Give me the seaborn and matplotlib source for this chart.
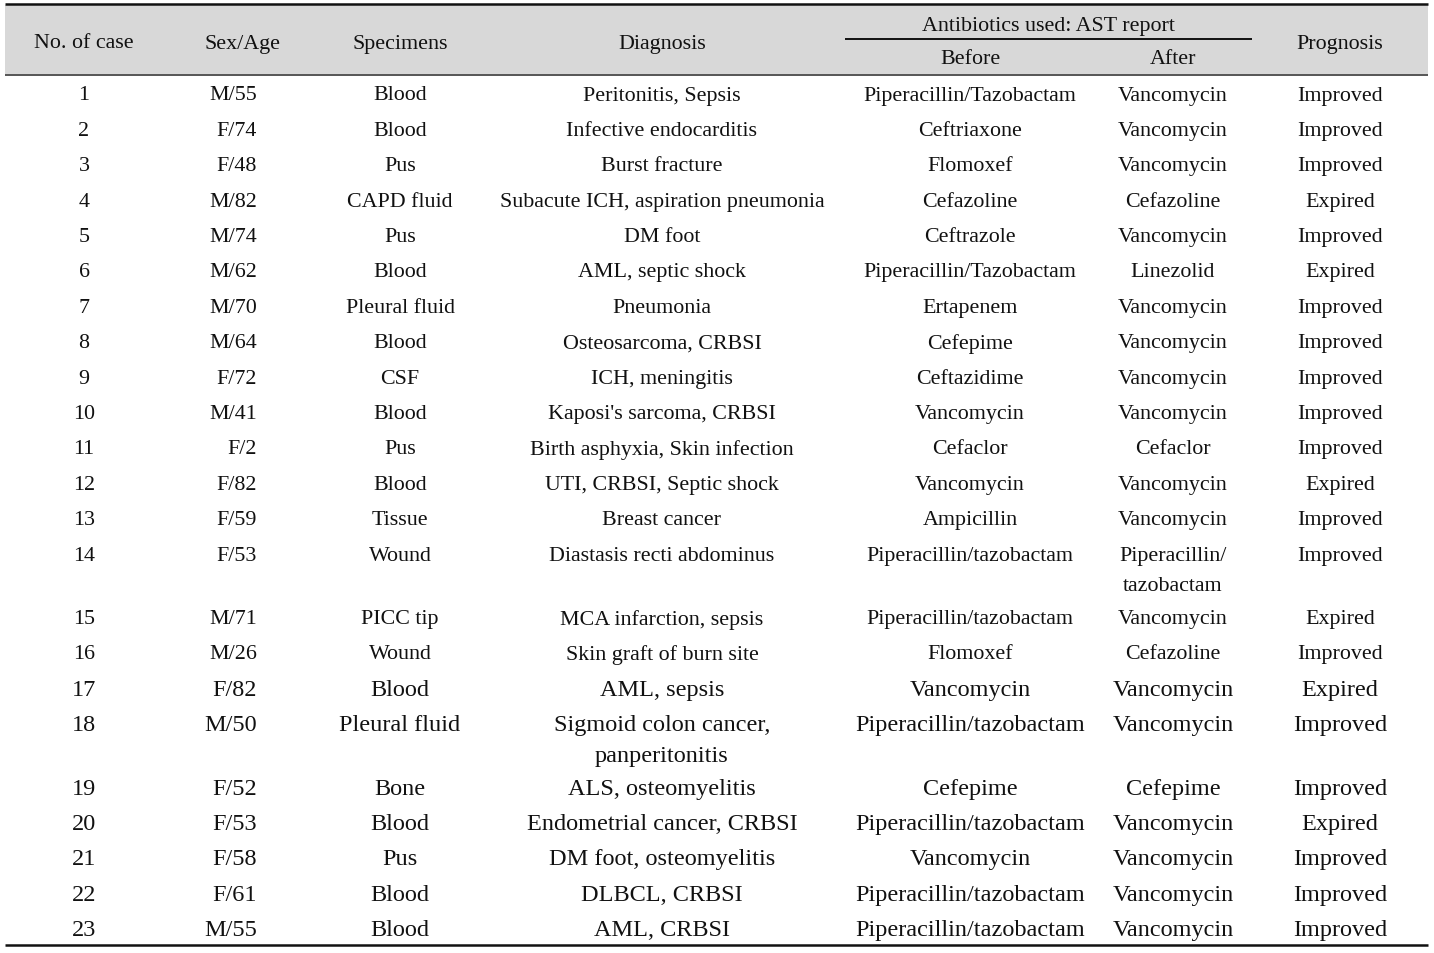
import pandas as pd
import matplotlib.pyplot as plt
import seaborn as sns

# --- table content ---
cases = [str(i) for i in range(1, 24)]
sex_age = ["M/55", "F/74", "F/48", "M/82", "M/74", "M/62", "M/70", "M/64", "F/72", "M/41",
           "F/2", "F/82", "F/59", "F/53", "M/71", "M/26", "F/82", "M/50", "F/52", "F/53",
           "F/58", "F/61", "M/55"]
specimens = ["Blood", "Blood", "Pus", "CAPD fluid", "Pus", "Blood", "Pleural fluid", "Blood",
             "CSF", "Blood", "Pus", "Blood", "Tissue", "Wound", "PICC tip", "Wound", "Blood",
             "Pleural fluid", "Bone", "Blood", "Pus", "Blood", "Blood"]
diagnosis = ["Peritonitis, Sepsis", "Infective endocarditis", "Burst fracture",
             "Subacute ICH, aspiration pneumonia", "DM foot", "AML, septic shock", "Pneumonia",
             "Osteosarcoma, CRBSI", "ICH, meningitis", "Kaposi's sarcoma, CRBSI",
             "Birth asphyxia, Skin infection", "UTI, CRBSI, Septic shock", "Breast cancer",
             "Diastasis recti abdominus", "MCA infarction, sepsis", "Skin graft of burn site",
             "AML, sepsis", "Sigmoid colon cancer,\npanperitonitis", "ALS, osteomyelitis",
             "Endometrial cancer, CRBSI", "DM foot, osteomyelitis", "DLBCL, CRBSI", "AML, CRBSI"]
before = ["Piperacillin/Tazobactam", "Ceftriaxone", "Flomoxef", "Cefazoline", "Ceftrazole",
          "Piperacillin/Tazobactam", "Ertapenem", "Cefepime", "Ceftazidime", "Vancomycin",
          "Cefaclor", "Vancomycin", "Ampicillin", "Piperacillin/tazobactam",
          "Piperacillin/tazobactam", "Flomoxef", "Vancomycin", "Piperacillin/tazobactam",
          "Cefepime", "Piperacillin/tazobactam", "Vancomycin", "Piperacillin/tazobactam",
          "Piperacillin/tazobactam"]
after = ["Vancomycin", "Vancomycin", "Vancomycin", "Cefazoline", "Vancomycin", "Linezolid",
         "Vancomycin", "Vancomycin", "Vancomycin", "Vancomycin", "Cefaclor", "Vancomycin",
         "Vancomycin", "Piperacillin/\ntazobactam", "Vancomycin", "Cefazoline", "Vancomycin",
         "Vancomycin", "Cefepime", "Vancomycin", "Vancomycin", "Vancomycin", "Vancomycin"]
prognosis = ["Improved", "Improved", "Improved", "Expired", "Improved", "Expired", "Improved",
             "Improved", "Improved", "Improved", "Improved", "Expired", "Improved", "Improved",
             "Expired", "Improved", "Expired", "Improved", "Improved", "Expired", "Improved",
             "Improved", "Improved"]

df = pd.DataFrame({"case": cases, "sex": sex_age, "spec": specimens, "diag": diagnosis,
                   "before": before, "after": after, "prog": prognosis})

sns.set_theme(style="white")
plt.rcParams["font.family"] = ["Liberation Serif", "DejaVu Serif"]

INK = "#111111"
W, H = 1434, 954
fig = plt.figure(figsize=(W / 100, H / 100), dpi=100)
ax = fig.add_axes([0, 0, 1, 1])
ax.set_xlim(0, W)
ax.set_ylim(H, 0)
ax.axis("off")

# column layout: (key, x, alignment)
cols = [("case", 84, "center"), ("sex", 257, "right"), ("spec", 400, "center"),
        ("diag", 662, "center"), ("before", 970, "center"), ("after", 1173, "center"),
        ("prog", 1340, "center")]

# header
ax.fill_between([5, 1428], 6, 75, color="#d8d8d8", lw=0)
ax.hlines(5, 5, 1428, color=INK, lw=1.8)
ax.hlines(75.5, 5, 1428, color="#555555", lw=1.4)
ax.hlines(40, 845, 1252, color=INK, lw=1.4)
hdr = dict(fontsize=15.8, color=INK, ha="center", va="center")
ax.text(84, 44, "No. of case", **hdr)
ax.text(242, 44, "Sex/Age", **hdr)
ax.text(400, 44, "Specimens", **hdr)
ax.text(662, 44, "Diagnosis", **hdr)
ax.text(1048, 26, "Antibiotics used: AST report", **hdr)
ax.text(970, 60, "Before", **hdr)
ax.text(1173, 60, "After", **hdr)
ax.text(1340, 44, "Prognosis", **hdr)

# body
y = 96
for i, row in df.iterrows():
    wide = i >= 16
    size = 17.5 if wide else 15.8
    nlines = 1
    for key, x, ha in cols:
        lines = row[key].split("\n")
        nlines = max(nlines, len(lines))
        for k, line in enumerate(lines):
            ax.text(x, y + k * 30.5, line, fontsize=size, color=INK, ha=ha, va="center")
    y += 35.4 + 28 * (nlines - 1)

ax.hlines(946, 5, 1428, color=INK, lw=1.8)

fig.savefig("out.png", dpi=100)
